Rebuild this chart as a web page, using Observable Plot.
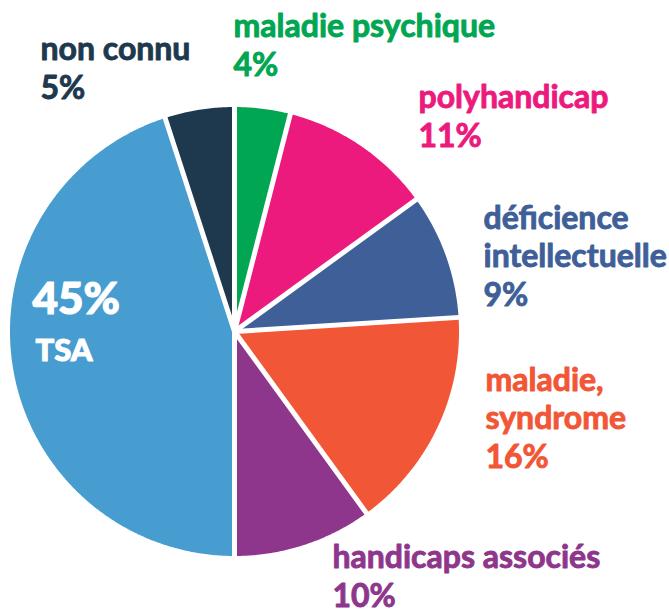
<!DOCTYPE html>
<html>
<head>
<meta charset="utf-8">
<script src="https://cdn.jsdelivr.net/npm/d3@7"></script>
<script src="https://cdn.jsdelivr.net/npm/@observablehq/plot@0.6"></script>
<style>
  html, body { margin: 0; padding: 0; background: #fff; }
  #chart svg { display: block; }
</style>
</head>
<body>
<div id="chart"></div>
<script>
// ---- data (clockwise from 12 o'clock) ----
const categories = ["maladie psychique", "polyhandicap", "déficience intellectuelle", "maladie, syndrome", "handicaps associés", "TSA", "non connu"];
const values = [4, 11, 9, 16, 10, 45, 5];
const labelLines = [["maladie psychique"], ["polyhandicap"], ["déficience", "intellectuelle"], ["maladie,", "syndrome"], ["handicaps associés"], ["TSA"], ["non connu"]];
const colors = ["#00a651", "#ec1a7d", "#3f5f98", "#f15637", "#8e368b", "#479cd0", "#1e384e"];

// ---- layout ----
const W = 669, H = 610;
const CX = 234, CY = 331, R = 224.5;          // pie centre / radius in px
const font = "Lato, 'Open Sans', sans-serif";
// label anchor (left x, baseline of last line) in px
const labelPx = [[233, 75], [418, 146], [483, 305], [485, 467], [332, 606], null, [40, 98]];

const toX = px => (px - CX) / R;
const toY = py => (CY - py) / R;

const total = d3.sum(values);
const slices = [];
let acc = 0;
values.forEach((v, i) => {
  const a0 = acc / total * 2 * Math.PI;
  acc += v;
  const a1 = acc / total * 2 * Math.PI;
  slices.push({i, a0, a1});
});

// polygon points for each slice
const polys = [];
slices.forEach(s => {
  const n = Math.max(2, Math.ceil((s.a1 - s.a0) / (Math.PI / 360)));
  polys.push({i: s.i, x: 0, y: 0});
  for (let k = 0; k <= n; k++) {
    const a = s.a0 + (s.a1 - s.a0) * k / n;
    polys.push({i: s.i, x: Math.sin(a), y: Math.cos(a)});
  }
  polys.push({i: s.i, x: 0, y: 0});
});

// white separators
const seps = slices.map(s => ({x1: 0, y1: 0, x2: Math.sin(s.a0) * 1.02, y2: Math.cos(s.a0) * 1.02}));

// outer labels
const labels = [];
categories.forEach((c, i) => {
  if (!labelPx[i]) return;
  labels.push({
    text: labelLines[i].concat([values[i] + "%"]).join("\n"),
    x: toX(labelPx[i][0]), y: toY(labelPx[i][1]), color: colors[i]
  });
});
const iTSA = categories.indexOf("TSA");

const chart = Plot.plot({
  width: W, height: H,
  margin: 0,
  x: {domain: [toX(0), toX(W)], axis: null},
  y: {domain: [toY(H), toY(0)], axis: null},
  color: {type: "identity"},
  style: {fontFamily: font, background: "#fff"},
  marks: [
    Plot.line(polys, {x: "x", y: "y", z: "i", fill: d => colors[d.i], stroke: "none", curve: "linear"}),
    Plot.link(seps, {x1: "x1", y1: "y1", x2: "x2", y2: "y2", stroke: "#fff", strokeWidth: 5}),
    Plot.text(labels, {x: "x", y: "y", text: "text", fill: "color", stroke: "color", strokeWidth: 0.9,
      textAnchor: "start", lineAnchor: "bottom",
      lineHeight: 1.2, fontSize: 32, fontWeight: 700, fontFamily: font}),
    Plot.text([values[iTSA] + "%"], {x: toX(32), y: toY(313), text: d => d, fill: "#fff", stroke: "#fff", strokeWidth: 1.2,
      textAnchor: "start", lineAnchor: "bottom", fontSize: 44, fontWeight: 900, fontFamily: font}),
    Plot.text([categories[iTSA]], {x: toX(35), y: toY(360), text: d => d, fill: "#fff", stroke: "#fff", strokeWidth: 1,
      textAnchor: "start", lineAnchor: "bottom", fontSize: 31, fontWeight: 900, fontFamily: font})
  ]
});
document.getElementById("chart").appendChild(chart);
</script>
</body>
</html>
